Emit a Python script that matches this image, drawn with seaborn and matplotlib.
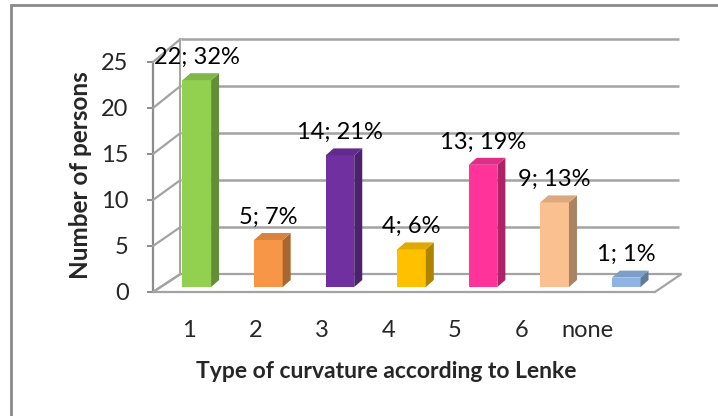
import numpy as np
import pandas as pd
import seaborn as sns
import matplotlib.pyplot as plt
import matplotlib.transforms as mtransforms
from matplotlib.patches import Polygon, Rectangle
from matplotlib.lines import Line2D
from matplotlib.colors import to_rgb

# --- data ---------------------------------------------------------------
categories = ["1", "2", "3", "4", "5", "6", "none"]
persons = [22, 5, 14, 4, 13, 9, 1]
y_ticks = [0, 5, 10, 15, 20, 25]
bar_colors = ["#92D050", "#F79646", "#7030A0", "#FFC000",
              "#FF3399", "#FAC090", "#8DB4E2"]

total = sum(persons)
value_labels = [f"{v}; {round(100 * v / total)}%" for v in persons]

df = pd.DataFrame({"type": categories, "persons": persons})

# --- figure -------------------------------------------------------------
sns.set_theme(style="white")
plt.rcParams["font.family"] = ["Lato", "DejaVu Sans"]

W, H = 718, 416
fig = plt.figure(figsize=(W / 100, H / 100), dpi=100)
fig.patch.set_facecolor("white")


def box(left, bottom, right, top):
    """Axes rectangle from pixel edges measured from the top-left corner."""
    return [left / W, 1 - bottom / H, (right - left) / W, (bottom - top) / H]


GRID = "#a3a3a3"
EDGE = "#8c8c8c"
FS = 17

# front plane (axis ticks and labels) and the plane the columns stand in
ax_front = fig.add_axes(box(153, 292, 655, 62))
ax = fig.add_axes(box(161, 287, 662, 52))
for a in (ax, ax_front):
    a.patch.set_alpha(0)
ax_front.set_zorder(0)
ax.set_zorder(1)

ax.set_xlim(-0.5, 6.46)
ax.set_ylim(0, 25)
ax_front.set_xlim(-0.5, 6.5)
ax_front.set_ylim(0, 25)

# offsets that move from the column plane to the back wall / column depth
back = ax.transData + mtransforms.ScaledTranslation(0.195, 0.13, fig.dpi_scale_trans)
depth = ax.transData + mtransforms.ScaledTranslation(0.08, 0.07, fig.dpi_scale_trans)
to_fig = fig.transFigure.inverted()


def fpt(trans, x, y):
    return to_fig.transform(trans.transform((x, y)))


# --- walls and floor ----------------------------------------------------
x0b, x1b = ax.get_xlim()
x0f, x1f = ax_front.get_xlim()

floor = [fpt(ax_front.transData, x0f, 0), fpt(ax_front.transData, x1f, 0),
         fpt(back, x1b, 0), fpt(back, x0b, 0)]
fig.add_artist(Polygon(floor, closed=True, facecolor="white", edgecolor=GRID,
                       lw=1.6, transform=fig.transFigure, zorder=0.5))

for y in y_ticks:
    if y > 0:
        ax.plot([x0b, x1b], [y, y], transform=back, color=GRID, lw=1.8,
                clip_on=False, zorder=0.6, solid_capstyle="butt")
    p0 = fpt(ax_front.transData, x0f, y)
    p1 = fpt(back, x0b, y)
    fig.add_artist(Line2D([p0[0], p1[0]], [p0[1], p1[1]], color=GRID, lw=1.6,
                          transform=fig.transFigure, zorder=0.6))

b0 = fpt(back, x0b, 0)
b1 = fpt(back, x0b, 25)
fig.add_artist(Line2D([b0[0], b1[0]], [b0[1], b1[1]], color=GRID, lw=1.4,
                      transform=fig.transFigure, zorder=0.6))

# --- columns --------------------------------------------------------------
sns.barplot(data=df, x="type", y="persons", hue="type", palette=bar_colors,
            legend=False, width=0.4, saturation=1, ax=ax, zorder=2)

for patch, color, label, v in zip(ax.patches, bar_colors, value_labels, persons):
    patch.set_edgecolor("none")
    bx, bw, bh = patch.get_x(), patch.get_width(), patch.get_height()
    rgb = np.array(to_rgb(color))
    side = [fpt(ax.transData, bx + bw, 0), fpt(ax.transData, bx + bw, bh),
            fpt(depth, bx + bw, bh), fpt(depth, bx + bw, 0)]
    top = [fpt(ax.transData, bx, bh), fpt(ax.transData, bx + bw, bh),
           fpt(depth, bx + bw, bh), fpt(depth, bx, bh)]
    fig.add_artist(Polygon(side, closed=True, facecolor=rgb * 0.68,
                           edgecolor="none", transform=fig.transFigure, zorder=2))
    fig.add_artist(Polygon(top, closed=True, facecolor=rgb * 0.88,
                           edgecolor="none", transform=fig.transFigure, zorder=2))
    ax.annotate(label, (bx + bw / 2, v), xytext=(0, 16.5),
                textcoords="offset points", ha="center", va="center",
                fontsize=FS, color="black", zorder=5, annotation_clip=False)

ax.set_xlabel("")
ax.set_ylabel("")
ax.set_xticks([])
ax.set_yticks([])
for s in ax.spines.values():
    s.set_visible(False)

# --- axis ticks on the front plane ---------------------------------------
for name, s in ax_front.spines.items():
    s.set_visible(name == "left")
ax_front.spines["left"].set_color(EDGE)
ax_front.spines["left"].set_linewidth(1.6)
ax_front.set_yticks(y_ticks)
ax_front.tick_params(axis="y", direction="out", length=4.5, width=1.4,
                     color=EDGE, pad=13, labelsize=FS, left=True)
ax_front.set_xticks(np.arange(len(categories)) * 0.927)
ax_front.set_xticklabels(categories)
ax_front.tick_params(axis="x", length=0, pad=20, labelsize=FS)

fig.text(386 / W, 1 - 372 / H, "Type of curvature according to Lenke",
         ha="center", va="center", fontsize=16.5, fontweight="bold")
fig.text(80 / W, 1 - 175 / H, "Number of persons", ha="center", va="center",
         rotation=90, fontsize=17.5, fontweight="bold")

# chart frame
fig.add_artist(Rectangle((11 / W, -0.2), 1.2, 1 - 5 / H + 0.2, fill=False,
                         edgecolor="#8a8a8a", lw=2, transform=fig.transFigure,
                         zorder=0))

fig.savefig("out.png", dpi=100)
